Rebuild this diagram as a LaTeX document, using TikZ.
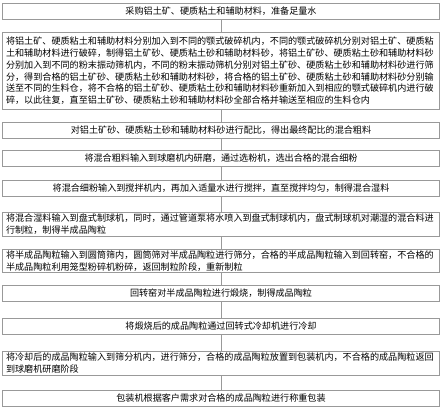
\documentclass[tikz,border=0pt]{standalone}
\usepackage{fontspec}
\usepackage{xcolor}
\usepackage{tikz}
\usetikzlibrary{positioning}
\newfontfamily\cjk{Noto Sans CJK SC}
\definecolor{boxgray}{rgb}{0.6, 0.6, 0.6}

\begin{document}
\begin{tikzpicture}[x=1pt, y=1pt,
	stepbox/.style={draw=boxgray, line width=0.6pt, text width=430pt, inner xsep=3.5pt, inner ysep=1pt, minimum height=16pt, anchor=north, align=center, font=\cjk\fontsize{9.1}{11.8}\selectfont},
	longbox/.style={stepbox, align=left},
	link/.style={draw=boxgray, line width=0.6pt}]
						
						\useasboundingbox (0,0) rectangle (443,-410);
						\pgfmathsetmacro{\midx}{221}
						
						\node[stepbox] (step1) at (\midx,-3) {采购铝土矿、硬质粘土和辅助材料，准备足量水};
						\node[longbox, minimum height=77pt] (step2) at (\midx,-32) {将铝土矿、硬质粘土和辅助材料分别加入到不同的颚式破碎机内，不同的颚式破碎机分别对铝土矿、硬质粘\\土和辅助材料进行破碎，制得铝土矿砂、硬质粘土砂和辅助材料砂，将铝土矿砂、硬质粘土砂和辅助材料砂\\分别加入到不同的粉末振动筛机内，不同的粉末振动筛机分别对铝土矿砂、硬质粘土砂和辅助材料砂进行筛\\分，得到合格的铝土矿砂、硬质粘土砂和辅助材料砂，将合格的铝土矿砂、硬质粘土砂和辅助材料砂分别输\\送至不同的生料仓，将不合格的铝土矿砂、硬质粘土砂和辅助材料砂重新加入到相应的颚式破碎机内进行破\\碎，以此往复，直至铝土矿砂、硬质粘土砂和辅助材料砂全部合格并输送至相应的生料仓内};
						\node[stepbox] (step3) at (\midx,-122) {对铝土矿砂、硬质粘土砂和辅助材料砂进行配比，得出最终配比的混合粗料};
						\node[stepbox] (step4) at (\midx,-150) {将混合粗料输入到球磨机内研磨，通过选粉机，选出合格的混合细粉};
						\node[stepbox] (step5) at (\midx,-180) {将混合细粉输入到搅拌机内，再加入适量水进行搅拌，直至搅拌均匀，制得混合湿料};
						\node[longbox, minimum height=24pt] (step6) at (\midx,-212) {将混合湿料输入到盘式制球机，同时，通过管道泵将水喷入到盘式制球机内，盘式制球机对潮湿的混合料进\\行制粒，制得半成品陶粒};
						\node[longbox, minimum height=23pt] (step7) at (\midx,-249) {将半成品陶粒输入到圆筒筛内，圆筒筛对半成品陶粒进行筛分，合格的半成品陶粒输入到回转窑，不合格的\\半成品陶粒利用笼型粉碎机粉碎，返回制粒阶段，重新制粒};
						\node[stepbox] (step8) at (\midx,-285) {回转窑对半成品陶粒进行煅烧，制得成品陶粒};
						\node[stepbox] (step9) at (\midx,-318) {将煅烧后的成品陶粒通过回转式冷却机进行冷却};
						\node[longbox, minimum height=24pt] (step10) at (\midx,-351) {将冷却后的成品陶粒输入到筛分机内，进行筛分，合格的成品陶粒放置到包装机内，不合格的成品陶粒返回\\到球磨机研磨阶段};
						\node[stepbox] (step11) at (\midx,-390) {包装机根据客户需求对合格的成品陶粒进行称重包装};
						
						%% plain connectors, no tips
						\draw[link] (step1) -- (step2);
						\draw[link] (step2) -- (step3);
						\draw[link] (step3) -- (step4);
						\draw[link] (step4) -- (step5);
						\draw[link] (step5) -- (step6);
						\draw[link] (step6) -- (step7);
						\draw[link] (step7) -- (step8);
						\draw[link] (step8) -- (step9);
						\draw[link] (step9) -- (step10);
						\draw[link] (step10) -- (step11);
						\end{tikzpicture}
\end{document}
